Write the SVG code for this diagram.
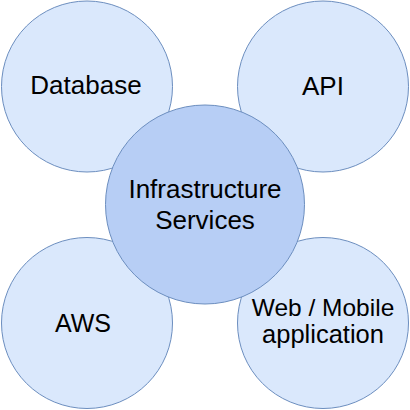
<svg xmlns="http://www.w3.org/2000/svg" width="410" height="410" viewBox="0 0 410 410">
<style>
.outer{fill:#dae8fc;stroke:#6c8ebf;stroke-width:1}
.center{fill:#b7cef5;stroke:#6c8ebf;stroke-width:1}
text{font-family:"Liberation Sans",Arial,sans-serif;font-size:26px;fill:#000;text-anchor:middle}
</style>
<rect width="410" height="410" fill="#ffffff"/>
<g id="connectors"></g>
<g id="database"><circle class="outer" cx="87" cy="86.5" r="85.5"/><text x="86" y="94">Database</text></g>
<g id="api"><circle class="outer" cx="323" cy="86.5" r="85.5"/><text x="323" y="95">API</text></g>
<g id="aws"><circle class="outer" cx="87" cy="323" r="85.5"/><text x="83" y="331.5" style="font-size:25px">AWS</text></g>
<g id="web-mobile"><circle class="outer" cx="323" cy="323" r="85.5"/><text x="323" y="315.5" style="font-size:24.5px">Web / Mobile</text><text x="323" y="343" style="font-size:25.5px">application</text></g>
<g id="infrastructure"><circle class="center" cx="205" cy="204.5" r="99.5"/><text x="205" y="197.5">Infrastructure</text><text x="205" y="229">Services</text></g>
</svg>
